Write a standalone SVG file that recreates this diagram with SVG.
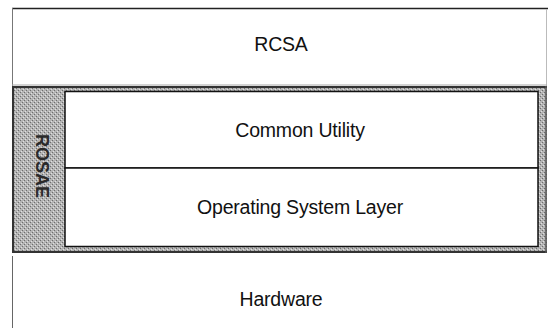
<svg xmlns="http://www.w3.org/2000/svg" width="548" height="328" viewBox="0 0 548 328">
  <defs>
    <pattern id="dither" width="4" height="4" patternUnits="userSpaceOnUse">
      <rect width="4" height="4" fill="#b4b4b4"/>
      <rect x="0" y="0" width="1" height="1" fill="#6e6e6e"/>
      <rect x="2" y="2" width="1" height="1" fill="#6e6e6e"/>
      <rect x="1" y="3" width="1" height="1" fill="#e0e0e0"/>
      <rect x="3" y="1" width="1" height="1" fill="#e0e0e0"/>
    </pattern>
  </defs>
  <style>
    .lbl { font-family: "Liberation Sans", Arial, sans-serif; font-size: 19.5px; fill: #111; text-anchor: middle; letter-spacing: -0.2px; }
    .side { font-family: "Liberation Sans", Arial, sans-serif; font-size: 18px; font-weight: bold; fill: #2a2a2a; text-anchor: middle; }
    .edge { stroke: #444; stroke-width: 1; fill: none; }
  </style>
  <rect width="548" height="328" fill="#ffffff"/>

  <g id="rcsa">
    <line x1="12" y1="8.5" x2="548" y2="8.5" stroke="#222" stroke-width="1.5"/>
    <line x1="12.5" y1="8" x2="12.5" y2="86" stroke="#777" stroke-width="1"/>
    <line x1="546.5" y1="9" x2="546.5" y2="86" stroke="#bbb" stroke-width="1"/>
    <line x1="12" y1="85" x2="547" y2="85" stroke="#aaa" stroke-width="1"/>
    <text class="lbl" x="281" y="51">RCSA</text>
  </g>

  <g id="rosae">
    <rect x="12" y="86" width="535" height="167" fill="url(#dither)"/>
    <line x1="12" y1="87" x2="547" y2="87" stroke="#333" stroke-width="2"/>
    <line x1="12" y1="252" x2="547" y2="252" stroke="#333" stroke-width="2"/>
    <line x1="13" y1="86" x2="13" y2="253" stroke="#333" stroke-width="2"/>
    <line x1="546" y1="86" x2="546" y2="253" stroke="#555" stroke-width="1.5"/>
    <text class="side" transform="translate(36 166) rotate(90)">ROSAE</text>
  </g>

  <g id="common-utility">
    <rect x="65" y="91.5" width="473" height="76.5" fill="#ffffff" stroke="#111" stroke-width="1.5"/>
    <text class="lbl" x="300" y="137">Common Utility</text>
  </g>

  <g id="operating-system-layer">
    <rect x="65" y="168" width="473" height="78.5" fill="#ffffff" stroke="#111" stroke-width="1.5"/>
    <text class="lbl" x="300" y="214">Operating System Layer</text>
  </g>

  <g id="hardware">
    <line x1="12.5" y1="256" x2="12.5" y2="328" stroke="#666" stroke-width="1"/>
    <text class="lbl" x="281" y="306">Hardware</text>
  </g>

  <g id="connectors"></g>
</svg>
